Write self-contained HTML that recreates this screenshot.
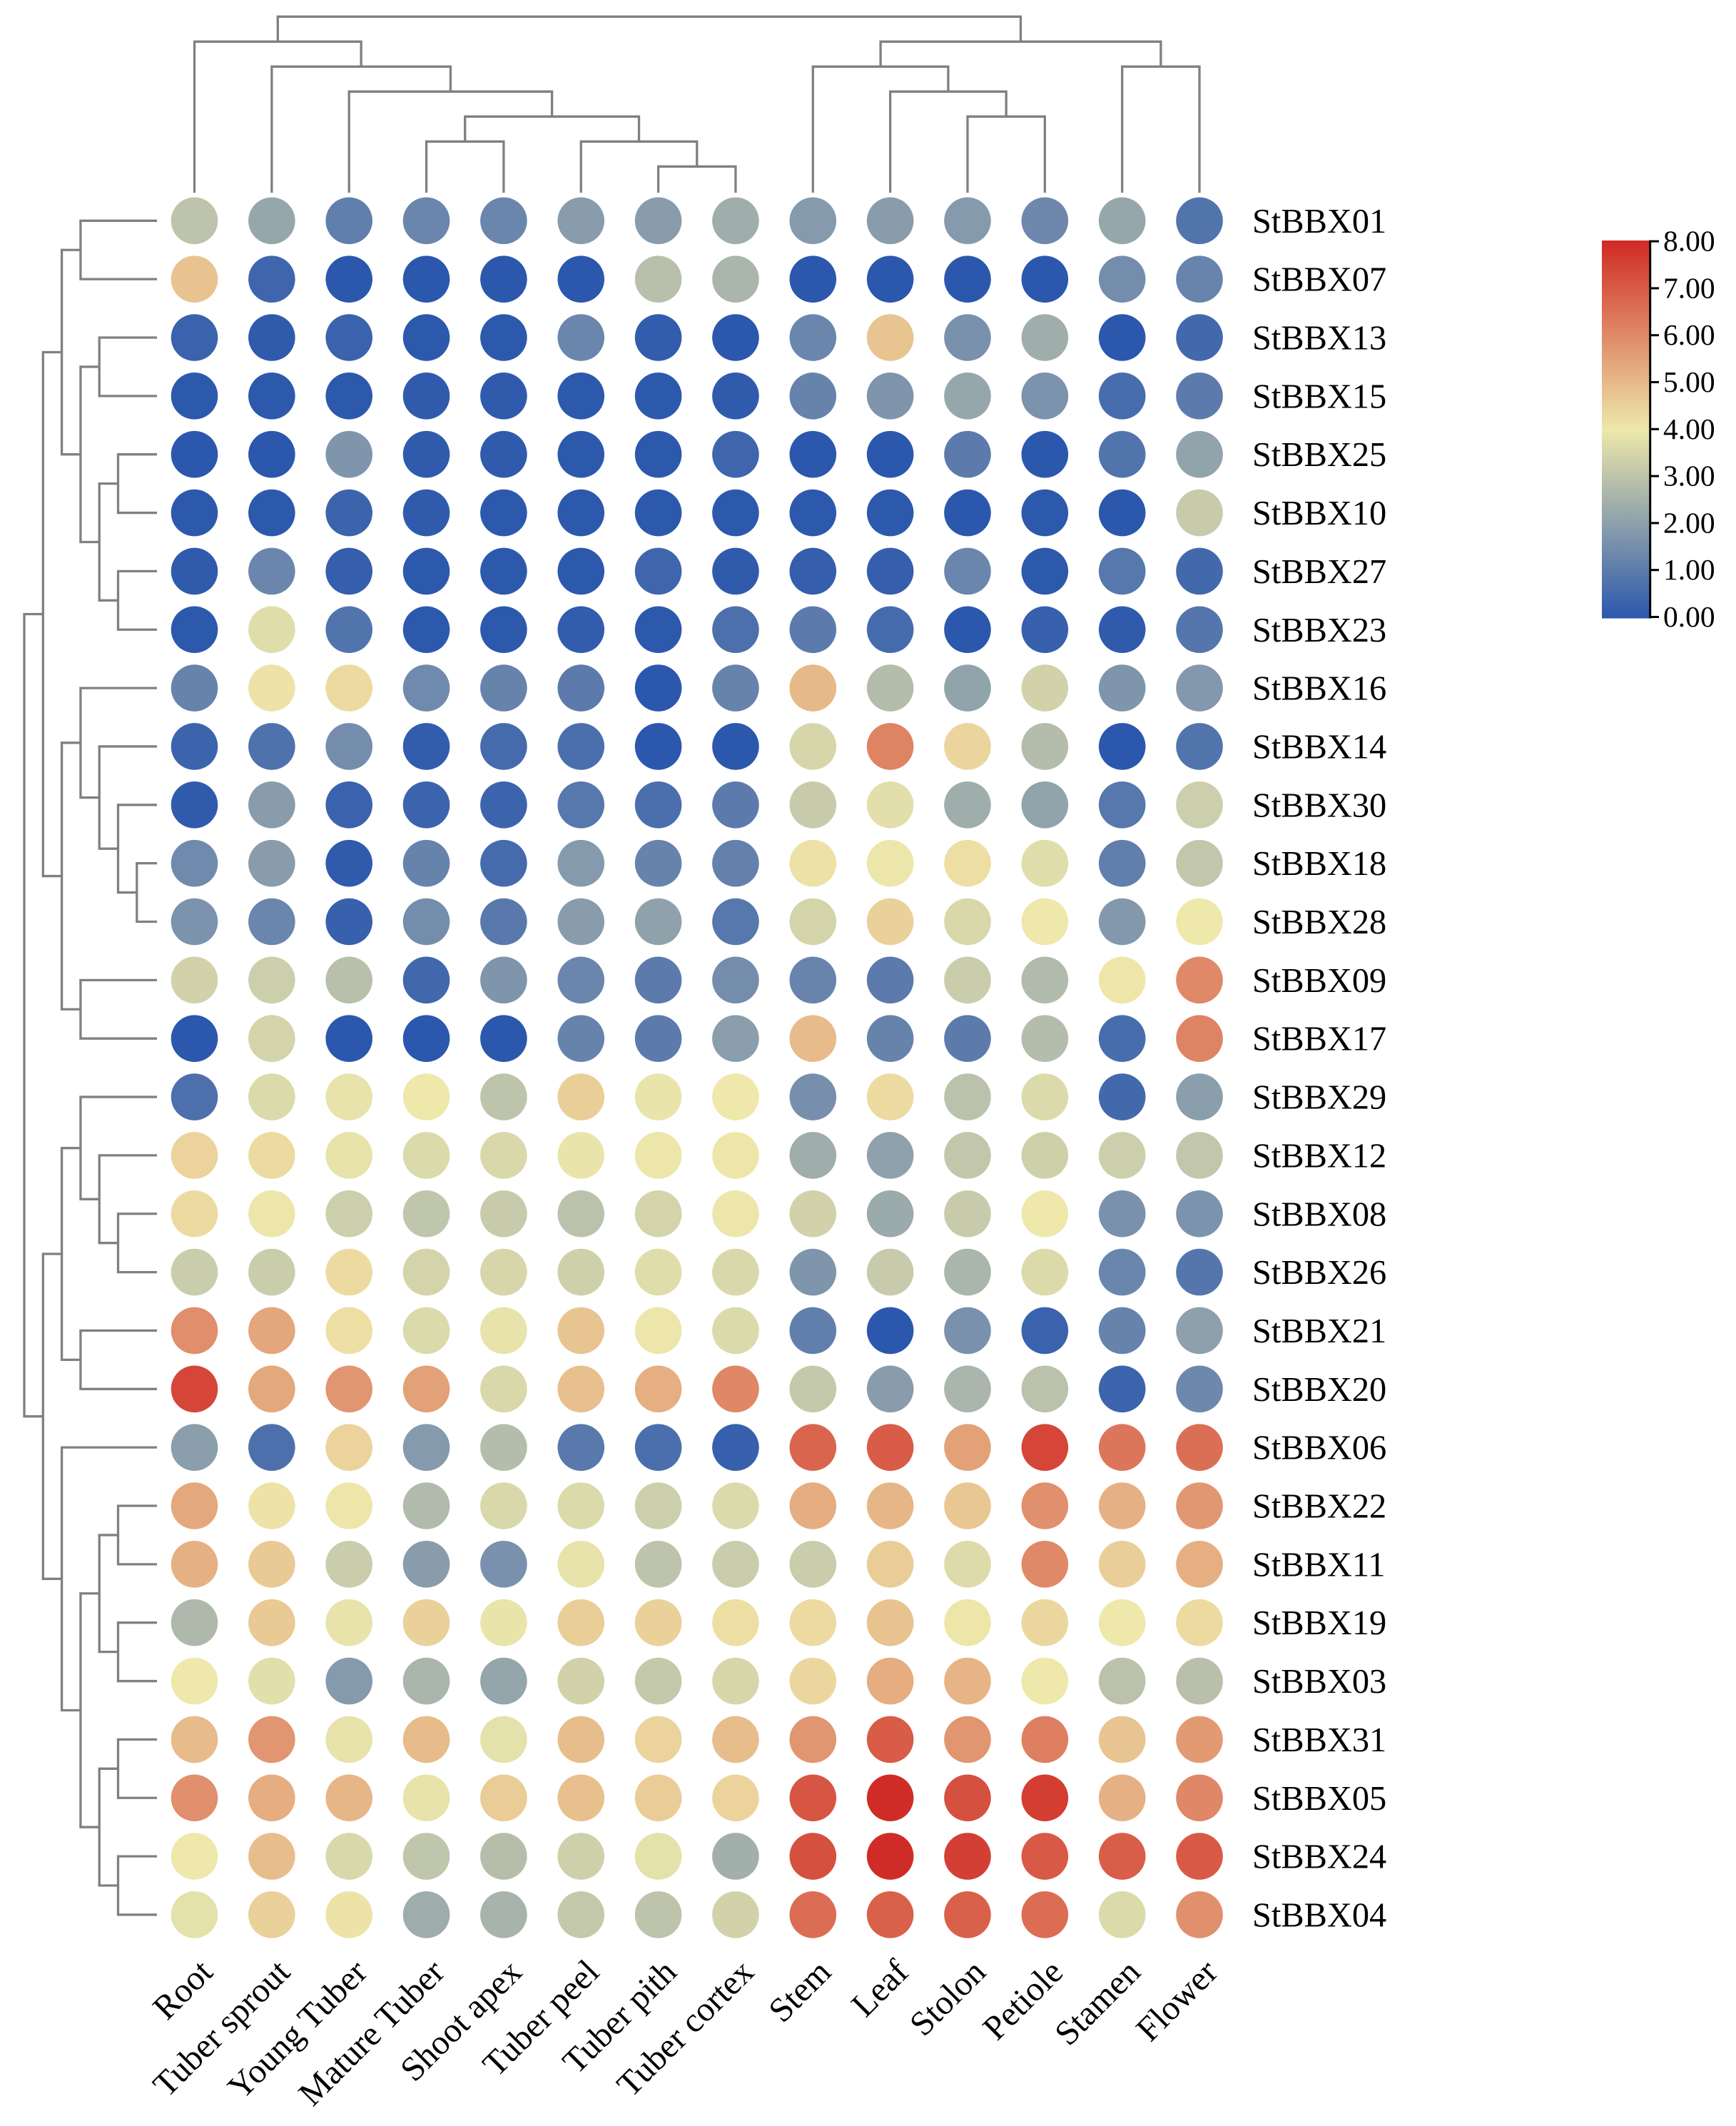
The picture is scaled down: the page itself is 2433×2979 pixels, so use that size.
<!DOCTYPE html>
<html lang="en">
<head>
<meta charset="utf-8">
<title>StBBX expression heatmap</title>
<style>
  html, body { margin: 0; padding: 0; background: #ffffff; }
  body { width: 2433px; height: 2979px; overflow: hidden; }
  svg { display: block; }
  text { font-family: "Liberation Serif", "Times New Roman", serif; fill: #000000; }
</style>
</head>
<body>
<svg id="chart" xmlns="http://www.w3.org/2000/svg" width="2433" height="2979" viewBox="0 0 2433 2979">
  <defs>
    <linearGradient id="cbGrad" x1="0" y1="1" x2="0" y2="0">
      <stop offset="0" stop-color="#2b57ad"/>
      <stop offset="0.5" stop-color="#eee8aa"/>
      <stop offset="1" stop-color="#d02a25"/>
    </linearGradient>
  </defs>
  <rect x="0" y="0" width="2433" height="2979" fill="#ffffff"/>
  <g id="colDendro"></g>
  <g id="rowDendro"></g>
  <g id="dots"></g>
  <g id="rowLabels"></g>
  <g id="colLabels"></g>
  <g id="colorbar">
    <rect x="2245" y="337" width="67" height="529.5" fill="url(#cbGrad)"/>
    <line x1="2312.7" y1="336.5" x2="2312.7" y2="866.5" stroke="#000000" stroke-width="3"/>
  </g>
</svg>
<script>
const tissues = ["Root","Tuber sprout","Young Tuber","Mature Tuber","Shoot apex","Tuber peel","Tuber pith","Tuber cortex","Stem","Leaf","Stolon","Petiole","Stamen","Flower"];
const genes = ["StBBX01","StBBX07","StBBX13","StBBX15","StBBX25","StBBX10","StBBX27","StBBX23","StBBX16","StBBX14","StBBX30","StBBX18","StBBX28","StBBX09","StBBX17","StBBX29","StBBX12","StBBX08","StBBX26","StBBX21","StBBX20","StBBX06","StBBX22","StBBX11","StBBX19","StBBX03","StBBX31","StBBX05","StBBX24","StBBX04"];
const colorbarTicks = [0,1,2,3,4,5,6,7,8];
const expression = [
  [3.0,2.2,1.1,1.3,1.3,1.9,1.9,2.4,1.85,1.9,1.85,1.35,2.2,0.8],
  [4.8,0.4,0,0,0,0,2.9,2.6,0,0,0,0,1.5,1.25],
  [0.3,0.1,0.3,0.05,0.05,1.3,0.15,0,1.3,4.75,1.6,2.4,0,0.5],
  [0.05,0.05,0.05,0.1,0.1,0.05,0.05,0.1,1.2,1.7,2.2,1.65,0.6,1.0],
  [0,0,1.7,0.1,0.1,0.05,0.05,0.4,0,0,1.0,0,0.8,2.1],
  [0.05,0.05,0.35,0.1,0.05,0.05,0.05,0.05,0.05,0.05,0,0.05,0,3.2],
  [0.1,1.3,0.2,0.05,0.05,0.05,0.4,0.1,0.2,0.2,1.3,0.05,0.9,0.5],
  [0.05,3.7,0.8,0.05,0.05,0.15,0.05,0.7,1.0,0.55,0,0.25,0.1,0.85],
  [1.2,4.1,4.3,1.4,1.2,1.0,0,1.2,5.0,2.8,2.1,3.4,1.7,1.8],
  [0.35,0.75,1.5,0.15,0.55,0.65,0,0,3.5,6.1,4.4,2.8,0,0.8],
  [0.1,1.9,0.3,0.35,0.35,0.9,0.65,1.0,3.2,3.75,2.4,2.1,0.9,3.3],
  [1.4,1.9,0.1,1.2,0.55,1.85,1.2,1.15,4.15,3.95,4.2,3.7,1.1,3.1],
  [1.65,1.3,0.25,1.5,0.95,1.9,2.05,0.9,3.45,4.5,3.55,4.0,1.8,4.0],
  [3.4,3.3,2.9,0.45,1.7,1.3,1.0,1.5,1.25,1.0,3.25,2.75,4.05,6.0],
  [0,3.45,0,0,0,1.2,1.0,1.95,4.95,1.2,1.0,2.8,0.6,6.1],
  [0.7,3.6,3.85,4.0,3.0,4.55,3.9,4.0,1.55,4.3,2.95,3.6,0.5,1.95],
  [4.45,4.3,3.85,3.6,3.55,3.9,3.95,4.05,2.4,2.05,3.1,3.35,3.3,3.1],
  [4.3,3.95,3.3,3.05,3.2,2.95,3.45,3.95,3.4,2.3,3.2,4.0,1.6,1.65],
  [3.25,3.25,4.3,3.45,3.5,3.35,3.7,3.55,1.7,3.2,2.6,3.6,1.3,0.85],
  [5.9,5.4,4.2,3.6,3.85,4.75,3.95,3.6,1.1,0,1.6,0.3,1.2,2.0],
  [7.4,5.35,5.75,5.5,3.55,4.85,5.2,6.05,3.15,1.9,2.6,2.95,0.35,1.35],
  [1.95,0.7,4.45,1.85,2.8,0.95,0.65,0.25,6.75,6.95,5.5,7.4,6.4,6.55],
  [5.35,4.1,4.05,2.75,3.55,3.6,3.3,3.6,5.25,5.05,4.7,5.85,5.15,5.7],
  [5.15,4.65,3.25,1.9,1.6,3.85,3.0,3.25,3.25,4.6,3.65,6.0,4.55,5.2],
  [2.7,4.65,3.85,4.5,3.9,4.55,4.5,4.2,4.3,4.8,4.05,4.35,4.0,4.3],
  [4.0,3.75,1.85,2.6,2.15,3.4,3.15,3.5,4.35,5.25,5.1,4.0,2.95,2.9],
  [4.95,5.75,3.85,4.95,3.8,4.9,4.45,4.9,5.75,6.95,5.75,6.2,4.75,5.65],
  [5.85,5.25,5.05,3.85,4.6,4.85,4.6,4.45,7.1,7.95,7.2,7.6,5.15,6.05],
  [4.0,4.9,3.55,3.05,2.85,3.35,3.8,2.45,7.2,7.95,7.55,7.0,6.9,7.0],
  [3.8,4.5,4.1,2.35,2.55,3.15,3.0,3.4,6.6,6.85,6.85,6.6,3.6,5.85]
];
/* Cluster trees hold leaf indices only */
const columnTree = [[0,[1,[2,[[3,4],[5,[6,7]]]]]],[[8,[9,[10,11]]],[12,13]]];
const rowTree = [
  [
    [[0,1],[[2,3],[[4,5],[6,7]]]],
    [[8,[9,[10,[11,12]]]],[13,14]]
  ],
  [
    [[15,[16,[17,18]]],[19,20]],
    [21,[[[22,23],[24,25]],[[26,27],[28,29]]]]
  ]
];

const NS = "http://www.w3.org/2000/svg";
const xScale = i => 272.5 + i * 108.35;
const yScale = i => 309.3 + i * 81.85;
const colDepthY = d => 23.3 + d * 35;
const rowDepthX = d => 34 + d * 26.3;
const cbScale = v => 864.5 - v * 65.8;
const lowColor = [43,87,173], midColor = [238,232,170], highColor = [208,42,37];
function colorFor(v) {
  const t = Math.max(0, Math.min(8, v));
  const a = t <= 4 ? lowColor : midColor;
  const b = t <= 4 ? midColor : highColor;
  const f = t <= 4 ? t / 4 : (t - 4) / 4;
  return "rgb(" + a.map((c, k) => Math.round(c + (b[k] - c) * f)).join(",") + ")";
}

function drawColNode(node, depth, group) {
  if (typeof node === "number") return xScale(node);
  const a = drawColNode(node[0], depth + 1, group);
  const b = drawColNode(node[1], depth + 1, group);
  const y = colDepthY(depth);
  const ya = typeof node[0] === "number" ? 270 : colDepthY(depth + 1);
  const yb = typeof node[1] === "number" ? 270 : colDepthY(depth + 1);
  const p = document.createElementNS(NS, "path");
  p.setAttribute("d", "M" + a + " " + ya + "V" + y + "H" + b + "V" + yb);
  p.setAttribute("fill", "none");
  p.setAttribute("stroke", "#808080");
  p.setAttribute("stroke-width", "3.3");
  
  
  group.appendChild(p);
  return (a + b) / 2;
}
function drawRowNode(node, depth, group) {
  if (typeof node === "number") return yScale(node);
  const a = drawRowNode(node[0], depth + 1, group);
  const b = drawRowNode(node[1], depth + 1, group);
  const x = rowDepthX(depth);
  const xa = typeof node[0] === "number" ? 220 : rowDepthX(depth + 1);
  const xb = typeof node[1] === "number" ? 220 : rowDepthX(depth + 1);
  const p = document.createElementNS(NS, "path");
  p.setAttribute("d", "M" + xa + " " + a + "H" + x + "V" + b + "H" + xb);
  p.setAttribute("fill", "none");
  p.setAttribute("stroke", "#808080");
  p.setAttribute("stroke-width", "3.3");
  
  
  group.appendChild(p);
  return (a + b) / 2;
}
drawColNode(columnTree, 0, document.getElementById("colDendro"));
drawRowNode(rowTree, 0, document.getElementById("rowDendro"));

const dots = document.getElementById("dots");
expression.forEach((row, r) => {
  row.forEach((v, c) => {
    const dot = document.createElementNS(NS, "circle");
    dot.setAttribute("cx", xScale(c));
    dot.setAttribute("cy", yScale(r));
    dot.setAttribute("r", "32.8");
    dot.setAttribute("fill", colorFor(v));
    
    
    dots.appendChild(dot);
  });
});

const rowLabels = document.getElementById("rowLabels");
genes.forEach((g, r) => {
  const t = document.createElementNS(NS, "text");
  t.setAttribute("x", "1755");
  t.setAttribute("y", yScale(r) + 16.5);
  t.setAttribute("font-size", "48.4");
  
  
  t.textContent = g;
  rowLabels.appendChild(t);
});

const colLabels = document.getElementById("colLabels");
tissues.forEach((name, c) => {
  const ax = xScale(c) + 28;
  const ay = 2766;
  const t = document.createElementNS(NS, "text");
  t.setAttribute("x", ax);
  t.setAttribute("y", ay);
  t.setAttribute("font-size", "48.4");
  t.setAttribute("text-anchor", "end");
  t.setAttribute("transform", "rotate(-45 " + ax + " " + ay + ")");
  
  
  t.textContent = name;
  colLabels.appendChild(t);
});

const colorbar = document.getElementById("colorbar");
colorbarTicks.forEach(v => {
  const y = cbScale(v);
  const tick = document.createElementNS(NS, "line");
  tick.setAttribute("x1", "2312");
  tick.setAttribute("x2", "2325");
  tick.setAttribute("y1", y);
  tick.setAttribute("y2", y);
  tick.setAttribute("stroke", "#000000");
  tick.setAttribute("stroke-width", "3");
  
  
  colorbar.appendChild(tick);
  const t = document.createElementNS(NS, "text");
  t.setAttribute("x", "2331");
  t.setAttribute("y", y + 13.5);
  t.setAttribute("font-size", "41.5");
  
  
  t.textContent = v.toFixed(2);
  colorbar.appendChild(t);
});
</script>
</body>
</html>
